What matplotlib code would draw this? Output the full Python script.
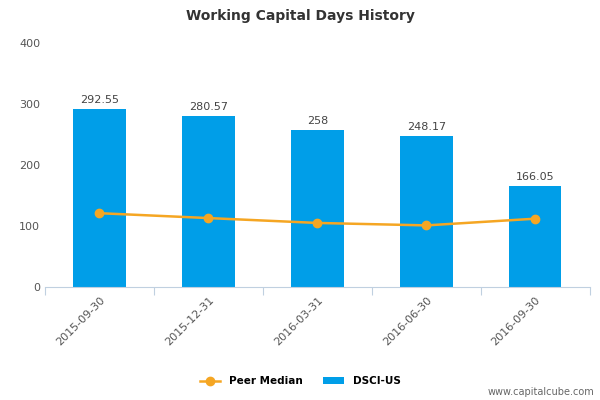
import matplotlib
matplotlib.use("Agg")
import matplotlib.pyplot as plt

categories = ["2015-09-30", "2015-12-31", "2016-03-31", "2016-06-30", "2016-09-30"]
dsci = [292.55, 280.57, 258, 248.17, 166.05]
dsci_labels = ["292.55", "280.57", "258", "248.17", "166.05"]
peer = [121, 113, 105, 101, 112]

fig = plt.figure(figsize=(6, 4), dpi=100)
ax = fig.add_axes([0.075, 0.2825, 0.908, 0.61])
x = range(len(categories))
ax.bar(x, dsci, width=0.48, color="#009ee8", label="DSCI-US", zorder=2)
ax.plot(x, peer, color="#f5a623", marker="o", markersize=6, lw=1.8, label="Peer Median", zorder=3)
for i, (v, t) in enumerate(zip(dsci, dsci_labels)):
    ax.text(i, v + 6, t, ha="center", va="bottom", fontsize=8, color="#444444")
ax.set_xlim(-0.5, 4.5)
ax.set_ylim(0, 400)
ax.set_yticks([0, 100, 200, 300, 400])
ax.tick_params(axis="y", length=0, labelsize=8, colors="#555555")
ax.set_xticks([i + 0.5 for i in range(-1, 5)], minor=False)
ax.set_xticklabels([])
ax.set_xticks(list(x), minor=True)
ax.set_xticklabels(categories, minor=True, rotation=45, ha="right", rotation_mode="anchor", fontsize=8, color="#555555")
ax.tick_params(axis="x", which="major", length=6, color="#c0d0e0")
ax.tick_params(axis="x", which="minor", length=0, pad=6)
for s in ["top", "right", "left"]:
    ax.spines[s].set_visible(False)
ax.spines["bottom"].set_color("#c0d0e0")
fig.text(0.5, 0.96, "Working Capital Days History", ha="center", va="center", fontsize=10, fontweight="bold", color="#333333")
fig.legend(loc="center", bbox_to_anchor=(0.5, 0.047), ncol=2, frameon=False, fontsize=7.5,
           prop={"weight": "bold", "size": 7.5})
fig.text(0.99, 0.02, "www.capitalcube.com", ha="right", va="center", fontsize=7, color="#666666")
fig.savefig("out.png")
